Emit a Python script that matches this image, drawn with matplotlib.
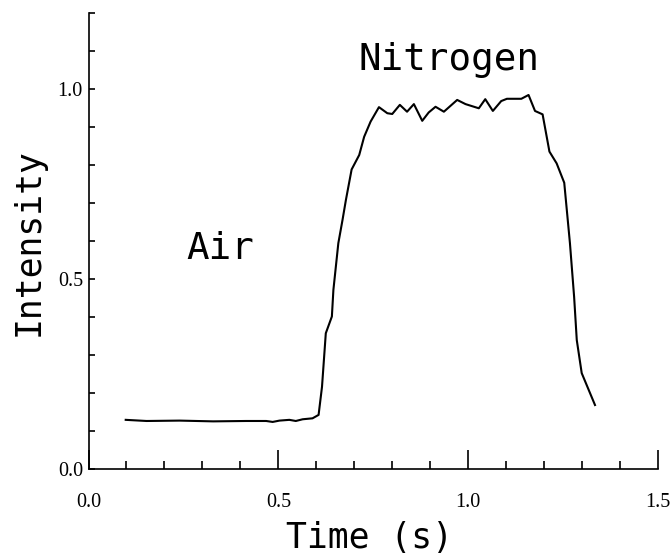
import numpy as np
import matplotlib
matplotlib.use("Agg")
import matplotlib.pyplot as plt

# Values
time = [0.098, 0.153, 0.240, 0.328, 0.415, 0.468, 0.485, 0.503, 0.529, 0.546,
        0.564, 0.590, 0.606, 0.615, 0.625, 0.641, 0.645, 0.658, 0.669, 0.678,
        0.693, 0.713, 0.726, 0.743, 0.765, 0.787, 0.800, 0.820, 0.839, 0.857,
        0.879, 0.896, 0.914, 0.936, 0.971, 0.993, 1.028, 1.045, 1.065, 1.087,
        1.102, 1.140, 1.159, 1.176, 1.196, 1.214, 1.233, 1.253, 1.268, 1.279,
        1.286, 1.299, 1.334]
intensity = [0.130, 0.127, 0.128, 0.126, 0.127, 0.127, 0.1245, 0.128, 0.130, 0.127,
             0.1315, 0.134, 0.143, 0.217, 0.358, 0.402, 0.472, 0.595, 0.656, 0.709,
             0.789, 0.827, 0.875, 0.915, 0.953, 0.937, 0.935, 0.959, 0.941, 0.961,
             0.917, 0.939, 0.954, 0.941, 0.972, 0.961, 0.950, 0.974, 0.943, 0.969,
             0.975, 0.975, 0.985, 0.943, 0.934, 0.836, 0.805, 0.754, 0.595, 0.454,
             0.340, 0.253, 0.169]

x_major = [0.0, 0.5, 1.0, 1.5]
y_major = [0.0, 0.5, 1.0]
x_labels = ["0.0", "0.5", "1.0", "1.5"]
y_labels = ["0.0", "0.5", "1.0"]

label_font = "DejaVu Sans Mono"
tick_font = "Liberation Serif"

fig = plt.figure(figsize=(6.72, 5.54), dpi=100)
ax = fig.add_axes([0.1317, 0.153, 0.8475, 0.823])

ax.plot(time, intensity, color="black", linewidth=1.5)

ax.set_xlim(0, 1.5)
ax.set_ylim(0, 1.2)

# only left and bottom axis lines, ticks pointing inward
for side in ["top", "right"]:
    ax.spines[side].set_visible(False)
for side in ["left", "bottom"]:
    ax.spines[side].set_linewidth(1.2)

ax.set_xticks(x_major)
ax.set_xticklabels(x_labels, fontfamily=tick_font, fontsize=14.5)
ax.set_xticks(np.arange(0, 1.51, 0.1), minor=True)
ax.set_yticks(y_major)
ax.set_yticklabels(y_labels, fontfamily=tick_font, fontsize=14.5)
ax.set_yticks(np.arange(0, 1.21, 0.1), minor=True)

ax.tick_params(axis="x", which="major", direction="in", length=14, width=1.2, pad=17)
ax.tick_params(axis="x", which="minor", direction="in", length=6, width=1.2)
ax.tick_params(axis="y", which="both", direction="in", length=4, width=1.2, pad=4)

ax.set_xlabel("Time (s)", fontfamily=label_font, fontsize=25, va="center")
ax.xaxis.set_label_coords(0.4926, -0.151)
ax.set_ylabel("Intensity", fontfamily=label_font, fontsize=25, va="center")
ax.yaxis.set_label_coords(-0.106, 0.498)

ax.text(0.949, 1.052, "Nitrogen", fontfamily=label_font, fontsize=27,
        ha="center", va="baseline")
ax.text(0.346, 0.553, "Air", fontfamily=label_font, fontsize=27,
        ha="center", va="baseline")

fig.savefig("out.png", dpi=100)
plt.close(fig)
